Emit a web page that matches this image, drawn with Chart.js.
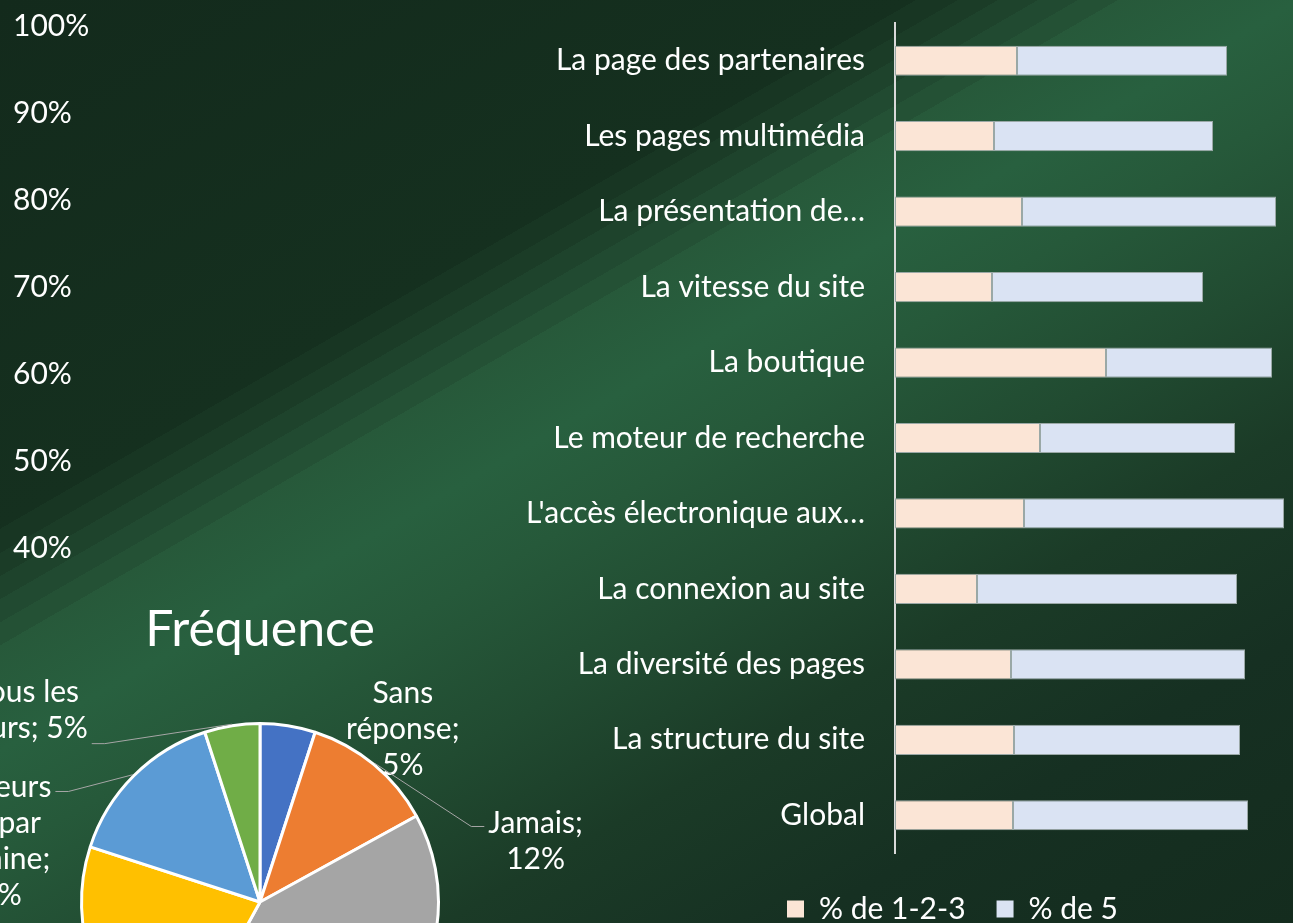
<!DOCTYPE html>
<html lang="fr">
<head>
<meta charset="utf-8">
<title>Satisfaction et fréquence</title>
<script src="https://cdn.jsdelivr.net/npm/chart.js@4.4.1/dist/chart.umd.min.js"></script>
<style>
    html, body {
        margin: 0;
        padding: 0;
        width: 1293px;
        height: 923px;
        overflow: hidden;
    }
    body {
        position: relative;
        background: linear-gradient(150deg,
            #132a1c 0px, #15301f 458px,
            #183623 458px, #183623 479px,
            #1b3c27 479px, #1b3c27 499px,
            #1e432c 499px, #1e432c 519px,
            #214a31 519px, #214a31 539px,
            #245135 539px, #245135 559px,
            #27593a 559px, #28603f 650px,
            #26593a 740px, #214b31 880px,
            #1b3b27 1020px, #163022 1200px, #142c1e 1446px);
    }
    .box { position: absolute; }
    #axisBox { left: 0; top: 0; width: 480px; height: 600px; }
    #barBox { left: 400px; top: -25px; width: 995px; height: 959px; }
    #pieBox { left: 0; top: 560px; width: 640px; height: 522px; }
</style>
</head>
<body>
<div class="box" id="axisBox"><canvas id="axisChart"></canvas></div>
<div class="box" id="barBox"><canvas id="barChart"></canvas></div>
<div class="box" id="pieBox"><canvas id="pieChart"></canvas></div>

<script>
// axe de gauche (graphique coupé)
const axisMin = 0.4;
const axisMax = 1.0;
const axisStep = 0.1;

// satisfaction par critère
const criteres = [
    'La page des partenaires',
    'Les pages multimédia',
    'La présentation de…',
    'La vitesse du site',
    'La boutique',
    'Le moteur de recherche',
    "L'accès électronique aux…",
    'La connexion au site',
    'La diversité des pages',
    'La structure du site',
    'Global'
];
const pct123 = [0.244, 0.198, 0.254, 0.194, 0.422, 0.29, 0.258, 0.164, 0.232, 0.238, 0.236];
const pct5 = [0.42, 0.438, 0.508, 0.422, 0.332, 0.39, 0.52, 0.52, 0.468, 0.452, 0.47];

// fréquence de visite
const frequences = ['Sans réponse', 'Jamais', 'Quelques fois par mois', 'Une fois par semaine', 'Plusieurs fois par semaine', 'Tous les jours'];
const partFrequence = [5, 12, 41, 22, 15, 5];

const FONT = 'Lato';
const TXT = 30;
Chart.defaults.font.family = FONT;
Chart.defaults.color = '#ffffff';

// left axis, only the percentage ticks are visible
new Chart(document.getElementById('axisChart'), {
    type: 'line',
    data: { labels: [], datasets: [] },
    options: {
        responsive: true,
        maintainAspectRatio: false,
        animation: false,
        layout: { padding: { left: 13, top: 26, bottom: 52 } },
        plugins: { legend: { display: false }, tooltip: { enabled: false } },
        scales: {
            x: { display: false },
            y: {
                min: axisMin,
                max: axisMax,
                ticks: {
                    stepSize: axisStep,
                    color: '#ffffff',
                    font: { size: TXT },
                    crossAlign: 'far',
                    padding: 0,
                    callback: v => Math.round(v * 100) + '%'
                },
                grid: { display: false, drawTicks: false },
                border: { display: false }
            }
        }
    }
});

// horizontal stacked bars
new Chart(document.getElementById('barChart'), {
    type: 'bar',
    data: {
        labels: criteres,
        datasets: [
            {
                label: '% de 1-2-3',
                data: pct123,
                backgroundColor: '#fbe5d6',
                borderColor: '#9aa8a6',
                borderWidth: 1,
                borderSkipped: false
            },
            {
                label: '% de 5',
                data: pct5,
                backgroundColor: '#dae3f3',
                borderColor: '#9aa8a6',
                borderWidth: 1,
                borderSkipped: false
            }
        ]
    },
    options: {
        indexAxis: 'y',
        responsive: true,
        maintainAspectRatio: false,
        animation: false,
        barPercentage: 0.8,
        categoryPercentage: 0.5,
        layout: { padding: { left: 110, right: 0, top: 22, bottom: 0 } },
        plugins: {
            tooltip: { enabled: false },
            legend: {
                position: 'bottom',
                labels: {
                    color: '#ffffff',
                    font: { size: TXT },
                    boxWidth: 17,
                    boxHeight: 17,
                    padding: 31,
                    generateLabels: chart => Chart.defaults.plugins.legend.labels.generateLabels(chart)
                        .map(item => Object.assign(item, { lineWidth: 0 }))
                }
            }
        },
        scales: {
            x: {
                stacked: true,
                min: 0,
                max: 1,
                ticks: { display: false },
                grid: { display: false, drawTicks: false },
                border: { display: false },
                afterFit: s => { s.height = 10; }
            },
            y: {
                stacked: true,
                ticks: { color: '#ffffff', font: { size: TXT }, padding: 30 },
                grid: { display: false, drawTicks: false },
                border: { display: true, color: '#d9d9d9', width: 2 },
                afterFit: s => { s.width = 385; }
            }
        }
    }
});

// outside labels with leader lines for the pie
function wrapWords(ctx, text, maxWidth) {
    const words = text.split(' ');
    const lines = [];
    let line = '';
    words.forEach(w => {
        const test = line ? line + ' ' + w : w;
        if (line && ctx.measureText(test).width > maxWidth) {
            lines.push(line);
            line = w;
        } else {
            line = test;
        }
    });
    if (line) lines.push(line);
    return lines;
}

const pieLabels = {
    id: 'pieLabels',
    afterDatasetsDraw(chart, args, opts) {
        const ctx = chart.ctx;
        const meta = chart.getDatasetMeta(0);
        const values = chart.data.datasets[0].data;
        const lh = opts.size * 1.2;
        ctx.save();
        ctx.font = opts.size + 'px ' + FONT;
        ctx.textAlign = 'center';
        ctx.textBaseline = 'middle';
        meta.data.forEach((arc, i) => {
            const p = arc.getProps(['x', 'y', 'startAngle', 'endAngle', 'outerRadius'], true);
            const place = opts.places[i];
            const cx = p.x + place.dx * p.outerRadius;
            const cy = p.y + place.dy * p.outerRadius;
            const lines = wrapWords(ctx, chart.data.labels[i] + '; ' + values[i] + '%', opts.wrap);
            const top = cy - lh * (lines.length - 1) / 2;
            let maxW = 0;
            ctx.fillStyle = '#ffffff';
            lines.forEach((l, k) => {
                ctx.fillText(l, cx, top + k * lh);
                maxW = Math.max(maxW, ctx.measureText(l).width);
            });
            if (place.leader) {
                const mid = (p.startAngle + p.endAngle) / 2;
                const r = p.outerRadius + 1.5;
                const ex = p.x + Math.cos(mid) * r;
                const ey = p.y + Math.sin(mid) * r;
                const side = ex < cx ? -1 : 1;
                const ax = cx + side * (maxW / 2 + 4);
                const ay = cy + place.ay;
                ctx.strokeStyle = '#a6a6a6';
                ctx.lineWidth = 1;
                ctx.beginPath();
                ctx.moveTo(ex, ey);
                ctx.lineTo(ax + side * 13, ay);
                ctx.lineTo(ax, ay);
                ctx.stroke();
            }
        });
        ctx.restore();
    }
};

new Chart(document.getElementById('pieChart'), {
    type: 'pie',
    data: {
        labels: frequences,
        datasets: [{
            data: partFrequence,
            backgroundColor: ['#4472c4', '#ed7d31', '#a5a5a5', '#ffc000', '#5b9bd5', '#70ad47'],
            borderColor: '#ffffff',
            borderWidth: 3
        }]
    },
    options: {
        responsive: true,
        maintainAspectRatio: false,
        animation: false,
        layout: { padding: { left: 80, right: 200, top: 0, bottom: 0 } },
        plugins: {
            legend: { display: false },
            tooltip: { enabled: false },
            title: {
                display: true,
                text: 'Fréquence',
                color: '#ffffff',
                font: { size: 50, weight: 'normal' },
                padding: { top: 40, bottom: 62 }
            },
            pieLabels: {
                size: TXT,
                wrap: 130,
                places: [
                    { dx: 0.8, dy: -0.967, leader: false },
                    { dx: 1.544, dy: -0.339, leader: true, ay: -15 },
                    { dx: 1.3, dy: 1.2, leader: false },
                    { dx: -1.5, dy: 1.0, leader: false },
                    { dx: -1.5, dy: -0.339, leader: true, ay: -50 },
                    { dx: -1.306, dy: -1.072, leader: true, ay: 33 }
                ]
            }
        }
    },
    plugins: [pieLabels]
});
</script>
</body>
</html>
